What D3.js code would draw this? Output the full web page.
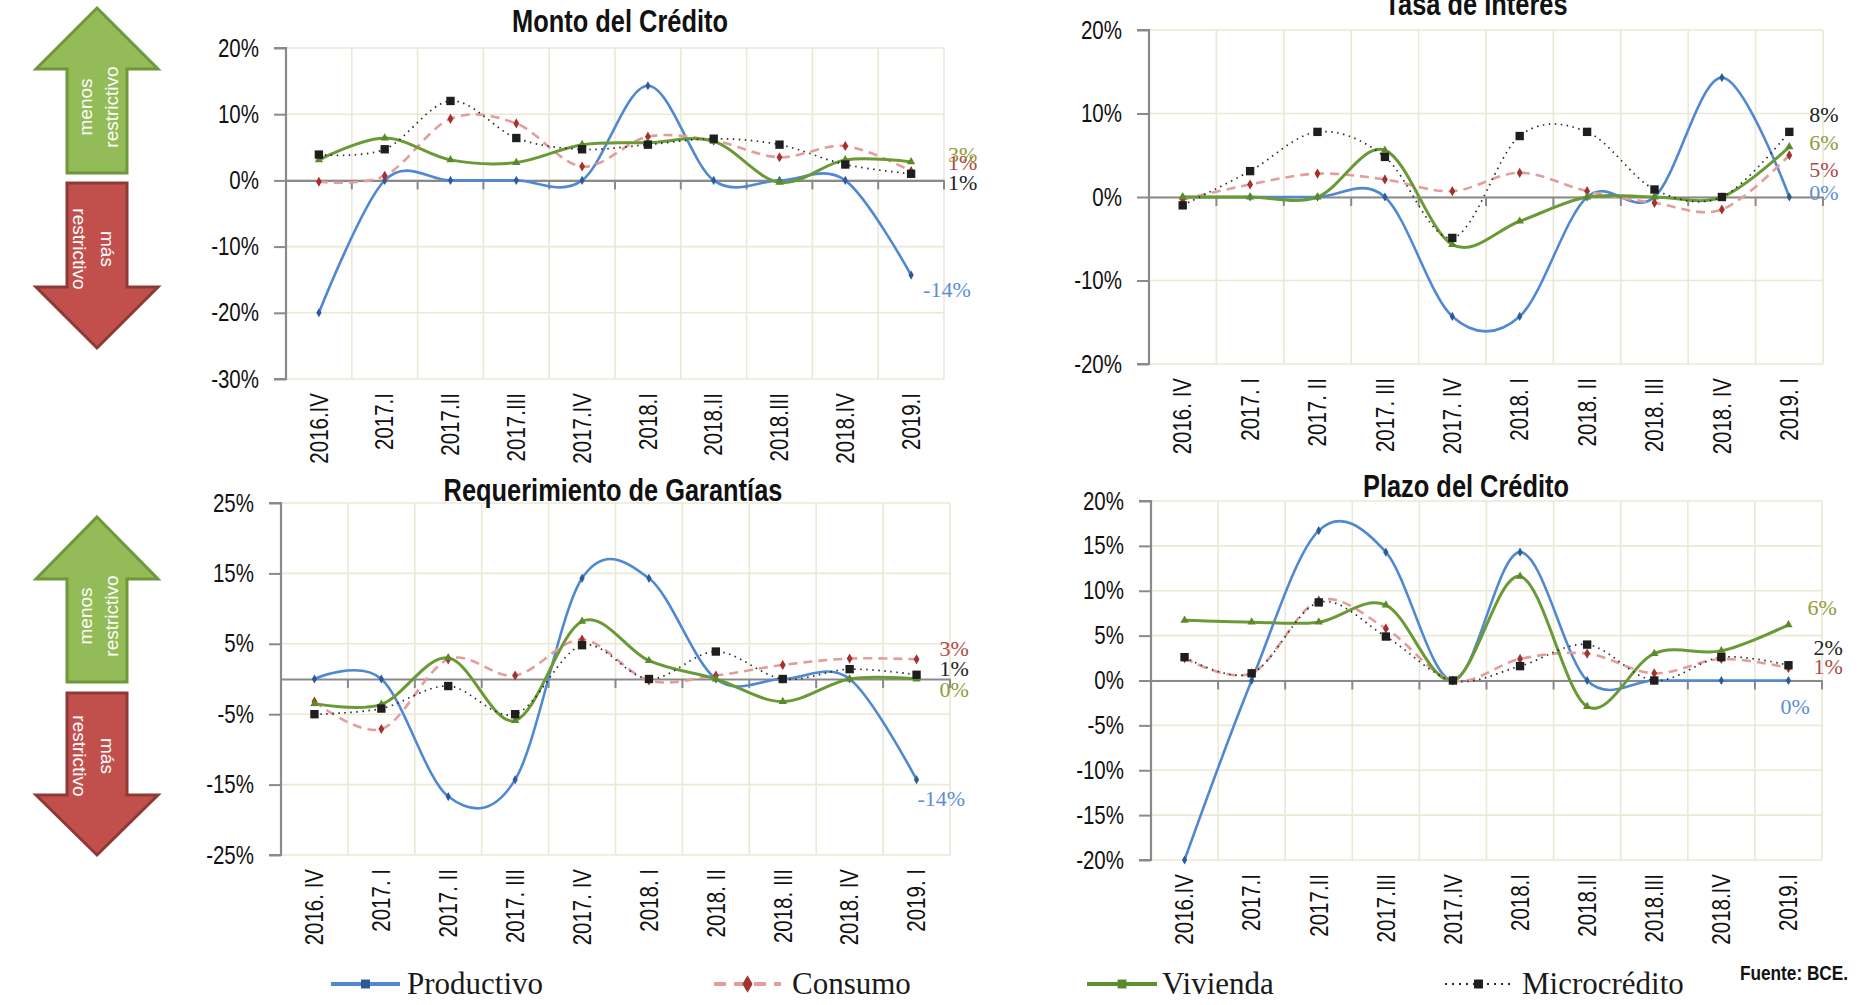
<!DOCTYPE html>
<html><head><meta charset="utf-8">
<script src="https://cdn.jsdelivr.net/npm/d3@7"></script>
<style>
body{margin:0;background:#fff;}
svg{display:block;}
.narrow{font-family:"Liberation Sans",Arial,sans-serif;}
.serif{font-family:"Liberation Serif","Times New Roman",serif;}
</style></head><body>
<svg id="c" width="1869" height="1005"></svg>
<script>
// ---------------- DATA ----------------
const categories = ["2016.IV","2017.I","2017.II","2017.III","2017.IV","2018.I","2018.II","2018.III","2018.IV","2019.I"];
const tickLabelsA = ["2016.IV","2017.I","2017.II","2017.III","2017.IV","2018.I","2018.II","2018.III","2018.IV","2019.I"];
const tickLabelsB = ["2016. IV","2017. I","2017. II","2017. III","2017. IV","2018. I","2018. II","2018. III","2018. IV","2019. I"];
const seriesNames = ["Productivo","Consumo","Vivienda","Microcrédito"];

const montoProductivo = [-20, 0, 0, 0, 0, 14.3, 0, 0, 0, -14.3];
const montoConsumo    = [-0.2, 0.7, 9.3, 8.6, 2.1, 6.6, 6.0, 3.5, 5.2, 1.4];
const montoVivienda   = [3.1, 6.4, 3.1, 2.7, 5.4, 5.7, 5.9, -0.3, 3.1, 2.8];
const montoMicro      = [3.9, 4.7, 12.0, 6.4, 4.7, 5.4, 6.3, 5.4, 2.4, 1.0];

const tasaProductivo = [0, 0, 0, 0, -14.3, -14.3, 0, 0, 14.3, 0];
const tasaConsumo    = [-0.3, 1.5, 2.8, 2.1, 0.7, 2.9, 0.7, -0.7, -1.5, 5.0];
const tasaVivienda   = [0, 0, 0, 5.6, -5.7, -2.9, 0, 0, 0, 6.0];
const tasaMicro      = [-1.0, 3.1, 7.8, 4.8, -4.9, 7.3, 7.8, 0.9, 0, 7.8];

const garantiasProductivo = [0, 0, -16.7, -14.3, 14.3, 14.3, 0, 0, 0, -14.3];
const garantiasConsumo    = [-3.2, -7.1, 2.8, 0.5, 5.6, -0.2, 0.5, 2.0, 2.9, 2.8];
const garantiasVivienda   = [-3.5, -3.6, 3.0, -5.9, 8.2, 2.6, 0, -3.2, 0, 0];
const garantiasMicro      = [-5.0, -4.2, -1.0, -5.0, 4.8, 0, 3.9, 0, 1.4, 0.6];

const plazoProductivo = [-20, 0, 16.7, 14.3, 0, 14.3, 0, 0, 0, 0];
const plazoConsumo    = [2.5, 0.8, 8.9, 5.8, 0, 2.4, 3.0, 0.8, 2.4, 1.4];
const plazoVivienda   = [6.7, 6.5, 6.5, 8.4, 0, 11.6, -2.9, 3.0, 3.3, 6.2];
const plazoMicro      = [2.6, 0.8, 8.7, 4.9, 0, 1.6, 4.0, 0, 2.6, 1.7];

const montoTicks     = [-30, -20, -10, 0, 10, 20];
const tasaTicks      = [-20, -10, 0, 10, 20];
const garantiasTicks = [-25, -15, -5, 5, 15, 25];
const plazoTicks     = [-20, -15, -10, -5, 0, 5, 10, 15, 20];

// ---------------- STYLES / LAYOUT ----------------
const NARROW = 0.82;
const styles = [
  {color:"#5088d2", width:2.6, dash:null,     sym:d3.symbolDiamond,  mcolor:"#2d5b98", msize:24, label:"#5b8ed8"},
  {color:"#e39d9b", width:2.6, dash:"9,6",    sym:d3.symbolDiamond,  mcolor:"#a3312f", msize:30, label:"#b04a48"},
  {color:"#6a9a35", width:3.0, dash:null,     sym:d3.symbolTriangle, mcolor:"#5a8a2a", msize:30, label:"#8f9c3a"},
  {color:"#2a2a2a", width:1.7, dash:"1.5,4.5",sym:d3.symbolSquare,   mcolor:"#1e1e1e", msize:70, label:"#222"}
];

const charts = [
  {title:"Monto del Crédito", titleX:620, titleY:32, x0:286, x1:944, yTop:48, yBot:379, dom:[-30,20], ticks:montoTicks,
   labels:tickLabelsA, series:[montoProductivo,montoConsumo,montoVivienda,montoMicro],
   endOff:[[12,14],[37,-9],[37,-8],[37,9]]},
  {title:"Tasa de Interés", titleX:1476, titleY:15, x0:1149, x1:1823, yTop:30, yBot:364, dom:[-20,20], ticks:tasaTicks,
   labels:tickLabelsB, series:[tasaProductivo,tasaConsumo,tasaVivienda,tasaMicro],
   endOff:[[20,-5],[20,14],[20,-5],[20,-18]]},
  {title:"Requerimiento de Garantías", titleX:613, titleY:501, x0:281, x1:950, yTop:503, yBot:855, dom:[-25,25], ticks:garantiasTicks,
   labels:tickLabelsB, series:[garantiasProductivo,garantiasConsumo,garantiasVivienda,garantiasMicro],
   endOff:[[1,19],[23,-11],[23,10],[23,-6]]},
  {title:"Plazo del Crédito", titleX:1466, titleY:497, x0:1151, x1:1822, yTop:501, yBot:860, dom:[-20,20], ticks:plazoTicks,
   labels:tickLabelsA, series:[plazoProductivo,plazoConsumo,plazoVivienda,plazoMicro],
   endOff:[[-8,26],[25,-2],[19,-18],[25,-18]]}
];

const svg = d3.select("#c");

// ---------------- ARROWS ----------------
function arrows(gTop){
  const g = svg.append("g");
  const cx = 97, hw = 61, sw = 30;
  const up = [[cx, gTop.tip],[cx+hw, gTop.base],[cx+sw, gTop.base],[cx+sw, gTop.bottom],[cx-sw, gTop.bottom],[cx-sw, gTop.base],[cx-hw, gTop.base]];
  const dn = [[cx-sw, gTop.rtop],[cx+sw, gTop.rtop],[cx+sw, gTop.rhead],[cx+hw, gTop.rhead],[cx, gTop.rtip],[cx-hw, gTop.rhead],[cx-sw, gTop.rhead]];
  g.append("polygon").attr("points", up.map(p=>p.join(",")).join(" "))
    .attr("fill","#93bb57").attr("stroke","#6e983b").attr("stroke-width",3).attr("stroke-linejoin","miter");
  g.append("polygon").attr("points", dn.map(p=>p.join(",")).join(" "))
    .attr("fill","#c1504d").attr("stroke","#8d3a37").attr("stroke-width",3).attr("stroke-linejoin","miter");
  const t1 = g.append("text").attr("transform",`translate(${cx+1},${gTop.gtext}) rotate(-90)`)
    .attr("font-family","Liberation Sans, Arial, sans-serif").attr("font-size",19).attr("fill","#fff").attr("text-anchor","middle");
  t1.append("tspan").attr("x",0).attr("y",-13).attr("dy","0.35em").text("menos");
  t1.append("tspan").attr("x",0).attr("y",13).attr("dy","0.35em").text("restrictivo");
  const t2 = g.append("text").attr("transform",`translate(${cx-3},${gTop.rtext}) rotate(90)`)
    .attr("font-family","Liberation Sans, Arial, sans-serif").attr("font-size",19).attr("fill","#fff").attr("text-anchor","middle");
  t2.append("tspan").attr("x",0).attr("y",-14).attr("dy","0.35em").text("más");
  t2.append("tspan").attr("x",0).attr("y",14).attr("dy","0.35em").text("restrictivo");
}
arrows({tip:8, base:69, bottom:173, rtop:183, rhead:287, rtip:348, gtext:107, rtext:249});
arrows({tip:517, base:579, bottom:682, rtop:693, rhead:795, rtip:855, gtext:616, rtext:756});

// ---------------- CHARTS ----------------
charts.forEach(c => {
  const g = svg.append("g");
  const x = d3.scaleBand().domain(categories).range([c.x0, c.x1]).padding(0);
  const y = d3.scaleLinear().domain(c.dom).range([c.yBot, c.yTop]);
  const xc = d => x(d) + x.bandwidth()/2;

  // gridlines
  const bounds = categories.map(d => x(d) + x.bandwidth());
  g.append("g").selectAll("line").data(bounds).join("line")
    .attr("x1",d=>d).attr("x2",d=>d).attr("y1",c.yTop).attr("y2",c.yBot)
    .attr("stroke","#ebe8d6").attr("stroke-width",1.6);
  g.append("g").selectAll("line").data(c.ticks).join("line")
    .attr("x1",c.x0).attr("x2",c.x1).attr("y1",d=>y(d)).attr("y2",d=>y(d))
    .attr("stroke","#ebe8d6").attr("stroke-width",1.6);

  // y axis
  const yAxis = d3.axisLeft(y).tickValues(c.ticks).tickSize(12).tickPadding(15)
    .tickFormat(d => d + "%");
  const ya = g.append("g").attr("transform",`translate(${c.x0},0)`).call(yAxis);
  ya.select(".domain").attr("stroke","#8a8a8a").attr("stroke-width",2.2).attr("d",`M-12,${c.yTop}H0V${c.yBot}H-12`);
  ya.selectAll(".tick line").attr("stroke","#8a8a8a").attr("stroke-width",2);
  ya.selectAll(".tick text").attr("class","narrow").attr("font-size",25).attr("fill","#111")
    .attr("font-family",null)
    .attr("transform",function(){ const xx = +d3.select(this).attr("x"); d3.select(this).attr("x",0); return `translate(${xx},0) scale(${NARROW},1)`; });
  ya.attr("font-family",null);

  // zero axis with tick marks at band boundaries
  const xAxis = d3.axisBottom(x).tickValues([]).tickSizeOuter(0);
  const za = g.append("g").attr("transform",`translate(0,${y(0)})`).call(xAxis);
  za.select(".domain").attr("stroke","#8a8a8a").attr("stroke-width",2.2);
  za.selectAll("line.bt").data(bounds).join("line").attr("class","bt")
    .attr("x1",d=>d).attr("x2",d=>d).attr("y1",0).attr("y2",9)
    .attr("stroke","#8a8a8a").attr("stroke-width",2);

  // category labels (rotated)
  g.append("g").selectAll("text").data(categories).join("text")
    .attr("class","narrow")
    .attr("transform",(d)=>`translate(${xc(d)},${c.yBot+14}) rotate(-90) scale(${NARROW},1)`)
    .attr("text-anchor","end").attr("dy","0.35em")
    .attr("font-size",25).attr("fill","#111")
    .text((d,i)=>c.labels[i]);

  // series
  const line = d3.line().x((v,i)=>xc(categories[i])).y(v=>y(v)).curve(d3.curveCardinal.tension(0));
  c.series.forEach((vals, si) => {
    const s = styles[si];
    g.append("path").attr("d", line(vals)).attr("fill","none")
      .attr("stroke", s.color).attr("stroke-width", s.width)
      .attr("stroke-dasharray", s.dash).attr("stroke-linecap","butt");
    g.append("g").selectAll("path").data(vals).join("path")
      .attr("d", d3.symbol().type(s.sym).size(s.msize))
      .attr("transform",(v,i)=>`translate(${xc(categories[i])},${y(v)})`)
      .attr("fill", s.mcolor);
  });

  // end labels
  const last = categories.length - 1;
  c.series.forEach((vals, si) => {
    const v = vals[last];
    g.append("text").attr("class","serif")
      .attr("x", xc(categories[last]) + c.endOff[si][0])
      .attr("y", y(v) + c.endOff[si][1]).attr("dy","0.35em")
      .attr("font-size",22).attr("fill",styles[si].label)
      .text(Math.round(v) + "%");
  });

  // title
  g.append("text").attr("class","narrow")
    .attr("transform",`translate(${c.titleX},${c.titleY}) scale(${NARROW},1)`)
    .attr("text-anchor","middle").attr("font-size",31).attr("font-weight","bold").attr("fill","#111")
    .text(c.title);
});

// ---------------- LEGEND ----------------
const legendItems = [
  {name:seriesNames[0], s:styles[0], x1:331, x2:400, tx:407},
  {name:seriesNames[1], s:styles[1], x1:714, x2:781, tx:792},
  {name:seriesNames[2], s:styles[2], x1:1087, x2:1157, tx:1162},
  {name:seriesNames[3], s:styles[3], x1:1445, x2:1512, tx:1522}
];
const ly = 984;
const lg = svg.append("g");
legendItems.forEach((it, i) => {
  lg.append("line").attr("x1",it.x1).attr("x2",it.x2).attr("y1",ly).attr("y2",ly)
    .attr("stroke", i===2 ? "#5e8f2e" : it.s.color).attr("stroke-width", i===3 ? 2 : 4)
    .attr("stroke-dasharray", i===1 ? "12,8" : (i===3 ? "2,5" : null));
  lg.append("path").attr("d", d3.symbol().type(i===1?d3.symbolDiamond:d3.symbolSquare).size(i===1?90:80))
    .attr("transform",`translate(${(it.x1+it.x2)/2},${ly})`).attr("fill", i===0?"#2d5b98":it.s.mcolor);
  lg.append("text").attr("class","serif").attr("x",it.tx).attr("y",ly).attr("dy","0.33em")
    .attr("font-size",31).attr("fill","#1a1a1a").text(it.name);
});
svg.append("text").attr("class","narrow")
  .attr("transform",`translate(1740,980) scale(${NARROW},1)`)
  .attr("font-size",21).attr("font-weight","bold").attr("fill","#111").text("Fuente: BCE.");
</script>
</body></html>
